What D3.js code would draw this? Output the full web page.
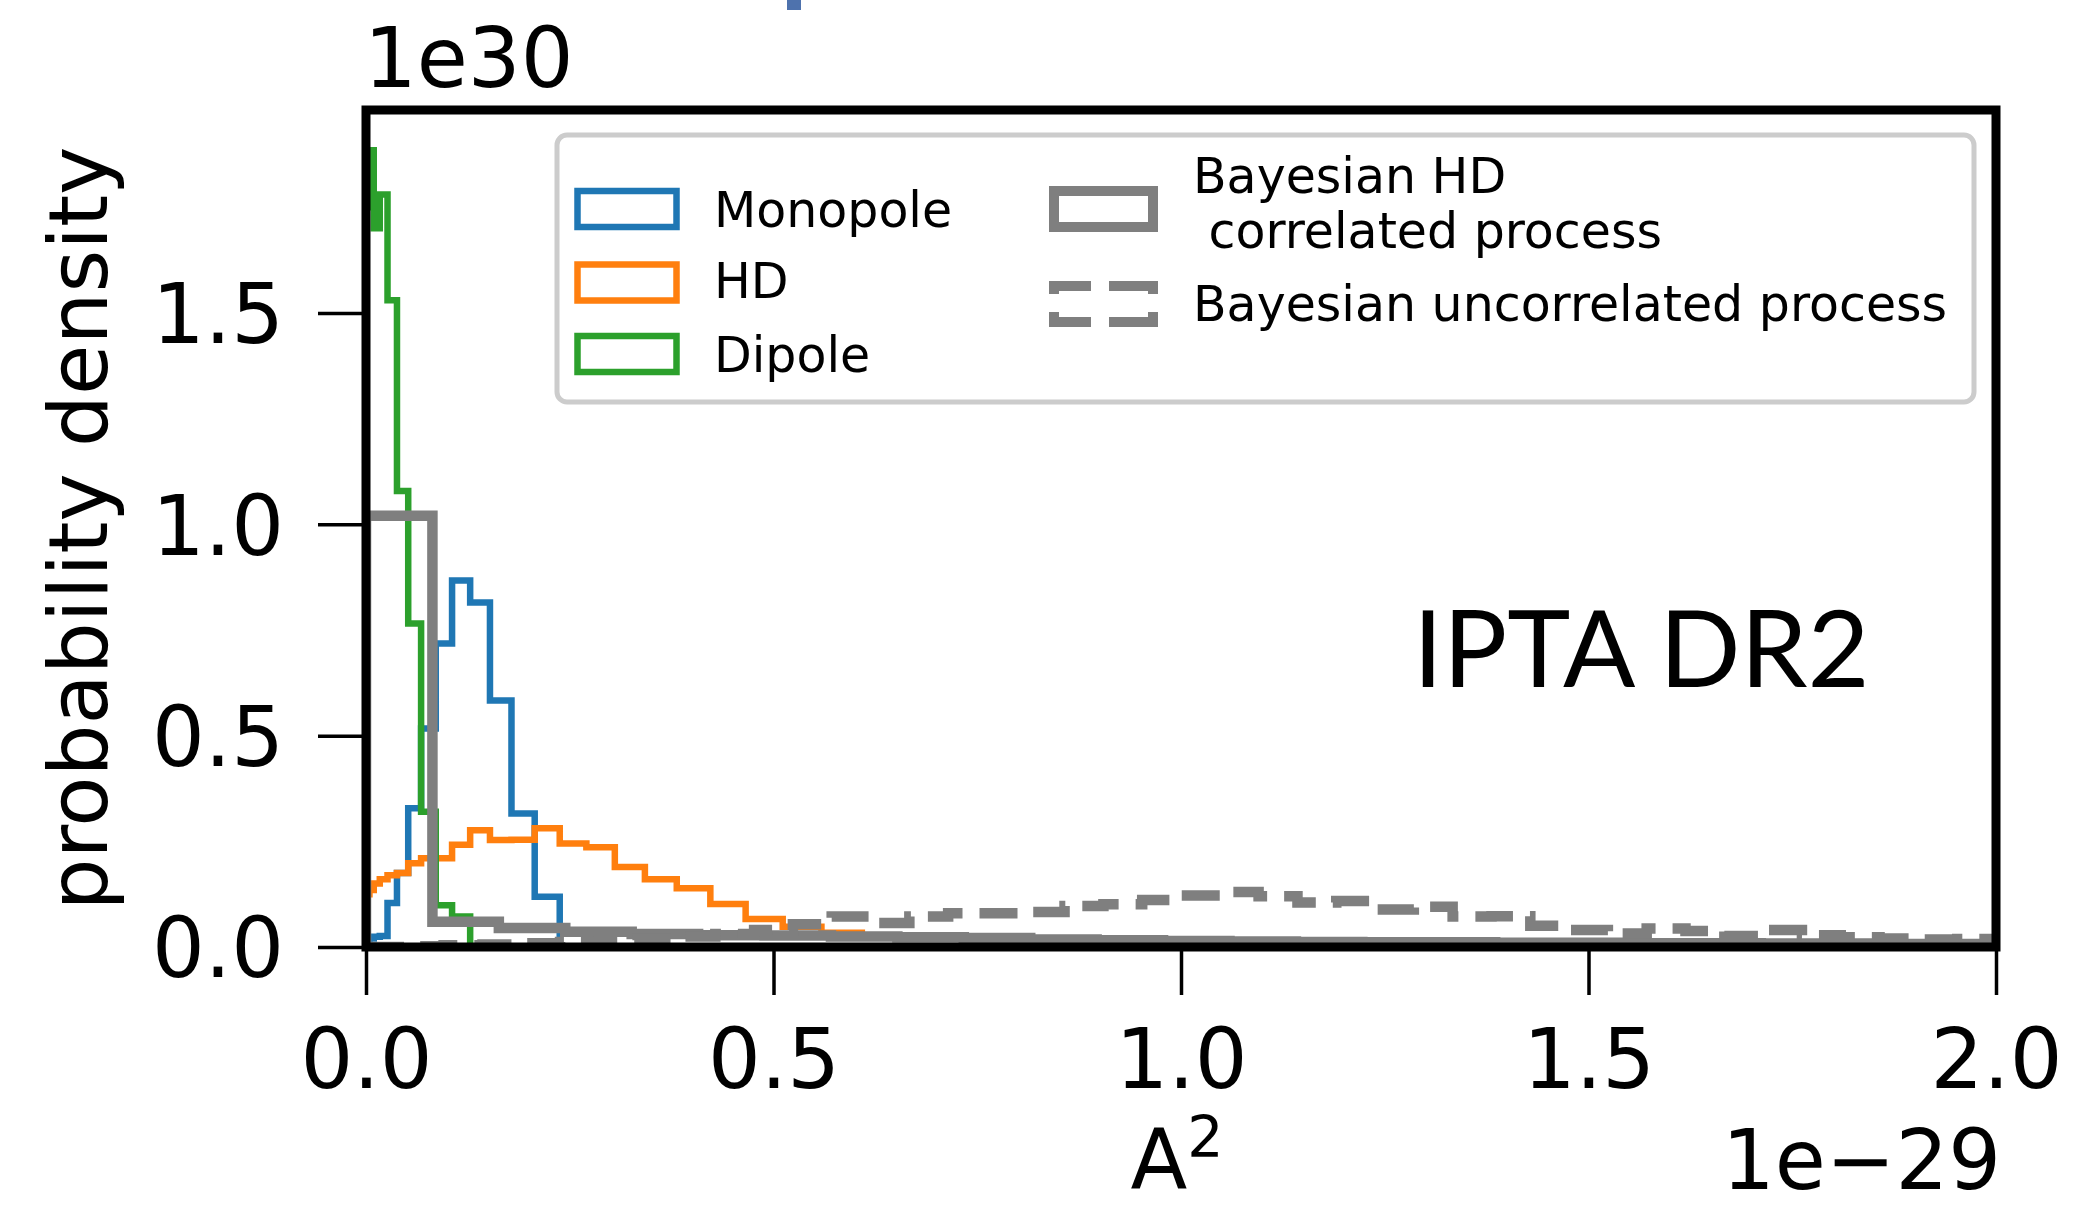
<!DOCTYPE html>
<html><head><meta charset="utf-8">
<script src="https://cdn.jsdelivr.net/npm/d3@7"></script>
<style>
html,body{margin:0;padding:0;background:#fff;}
svg{display:block;}
text{font-family:"DejaVu Sans", sans-serif; fill:#000;}
</style></head><body>
<svg id="chart" width="2100" height="1210"></svg>
<script>
// ---------- data ----------
const xTicks = [0, 0.5, 1.0, 1.5, 2.0];
const xTickLabels = ["0.0", "0.5", "1.0", "1.5", "2.0"];
const yTicks = [0, 0.5, 1.0, 1.5];
const yTickLabels = ["0.0", "0.5", "1.0", "1.5"];

// shared bin edges of the three colored histograms (units of 1e-29)
const colorEdges = [0, 0.00106, 0.00423, 0.00951, 0.0169, 0.0264, 0.0380, 0.0518, 0.0676, 0.0856,
  0.1056, 0.1278, 0.1521, 0.1785, 0.2070, 0.2377, 0.2704, 0.3053, 0.3422, 0.3813,
  0.4225, 0.4658, 0.5113, 0.5588, 0.6084, 0.6602, 0.7141, 0.7700, 0.8281, 0.8883,
  0.9506, 1.0150, 1.0816];
// densities (units of 1e30)
const monopole = [0, 0.010, 0.020, 0.024, 0.026, 0.104, 0.175, 0.328, 0.517, 0.718,
  0.867, 0.815, 0.583, 0.316, 0.119];
const hd = [0.120, 0.125, 0.135, 0.150, 0.160, 0.170, 0.175, 0.198, 0.210, 0.210,
  0.242, 0.276, 0.253, 0.254, 0.281, 0.245, 0.236, 0.189, 0.160, 0.139,
  0.1015, 0.066, 0.048, 0.034, 0.027, 0.023, 0.020, 0.016, 0.012, 0.009,
  0.007, 0.005];
const dipole = [1.80, 1.75, 1.885, 1.70, 1.78, 1.53, 1.079, 0.765, 0.320, 0.099, 0.072];

const bayesHDEdges = [0, 0.0815, 0.163, 0.2445, 0.326, 0.4075, 0.489, 0.5705, 0.652, 0.7335,
  0.815, 0.8965, 0.978, 1.0595, 1.141, 1.2225, 1.304, 1.3855, 1.467, 1.5485,
  1.63, 1.7115, 1.793, 1.8745, 1.956, 2.0375];
const bayesHD = [1.02, 0.060, 0.045, 0.036, 0.031, 0.028, 0.027, 0.025, 0.023, 0.021,
  0.018, 0.016, 0.014, 0.013, 0.012, 0.011, 0.011, 0.010, 0.010, 0.009,
  0.009, 0.008, 0.008, 0.007, 0.007];

const bayesUncEdges = [0, 0.0476, 0.0952, 0.1429, 0.1905, 0.2381, 0.2857, 0.3333, 0.3810, 0.4286,
  0.4762, 0.5238, 0.5714, 0.6190, 0.6667, 0.7143, 0.7619, 0.8095, 0.8571, 0.9048,
  0.9524, 1.0000, 1.0476, 1.0952, 1.1429, 1.1905, 1.2381, 1.2857, 1.3333, 1.3810,
  1.4286, 1.4762, 1.5238, 1.5714, 1.6190, 1.6667, 1.7143, 1.7619, 1.8095, 1.8571,
  1.9048, 1.9524, 2.0000];
const bayesUnc = [0.000, 0.002, 0.004, 0.006, 0.009, 0.012, 0.016, 0.020, 0.025, 0.031,
  0.040, 0.054, 0.072, 0.057, 0.072, 0.080, 0.080, 0.083, 0.097, 0.101,
  0.111, 0.122, 0.130, 0.120, 0.105, 0.109, 0.089, 0.095, 0.072, 0.073,
  0.050, 0.040, 0.032, 0.044, 0.038, 0.026, 0.040, 0.028, 0.023, 0.020,
  0.018, 0.019];

const legendNames = ["Monopole", "HD", "Dipole", "Bayesian HD", " correlated process", "Bayesian uncorrelated process"];

// ---------- layout ----------
const svg = d3.select("#chart");
const L = 366, R = 1996, T = 110, B = 947;
const x = d3.scaleLinear().domain([0, 2]).range([L, R]);
const y = d3.scaleLinear().domain([0, 1.98]).range([B, T]);

svg.append("rect").attr("x", 0).attr("y", 0).attr("width", 2100).attr("height", 1210).attr("fill", "#fff");
// stray slide element at top
svg.append("rect").attr("x", 787).attr("y", 0).attr("width", 14).attr("height", 10).attr("fill", "#4e72ad");

svg.append("defs").append("clipPath").attr("id", "plotclip")
  .append("rect").attr("x", L).attr("y", T).attr("width", R - L).attr("height", B - T);

function stepPoints(edges, vals) {
  const pts = [[edges[0], 0]];
  vals.forEach((v, i) => { pts.push([edges[i], v]); pts.push([edges[i + 1], v]); });
  pts.push([edges[vals.length], 0]);
  return pts;
}
const line = d3.line().x(d => x(d[0])).y(d => y(d[1]));

const plot = svg.append("g").attr("clip-path", "url(#plotclip)");
const hists = [
  {edges: colorEdges, vals: monopole, color: "#1f77b4", w: 6.5, dash: null},
  {edges: colorEdges, vals: hd, color: "#ff7f0e", w: 6.5, dash: null},
  {edges: colorEdges, vals: dipole, color: "#2ca02c", w: 6.5, dash: null},
  {edges: bayesHDEdges, vals: bayesHD, color: "#7f7f7f", w: 10.5, dash: null},
  {edges: bayesUncEdges, vals: bayesUnc, color: "#7f7f7f", w: 10.5, dash: "38,17"}
];
hists.forEach(h => {
  plot.append("path")
    .attr("d", line(stepPoints(h.edges, h.vals)))
    .attr("fill", "none")
    .attr("stroke", h.color)
    .attr("stroke-width", h.w)
    .attr("stroke-linejoin", "miter")
    .attr("stroke-dasharray", h.dash);
});

// ---------- axes ----------
const xAxis = svg.append("g").attr("transform", `translate(0,${B})`)
  .call(d3.axisBottom(x).tickValues(xTicks).tickFormat((d, i) => xTickLabels[i]).tickSize(48).tickPadding(34));
const yAxis = svg.append("g").attr("transform", `translate(${L},0)`)
  .call(d3.axisLeft(y).tickValues(yTicks).tickFormat((d, i) => yTickLabels[i]).tickSize(48).tickPadding(34));
[xAxis, yAxis].forEach(a => {
  a.select(".domain").remove();
  a.selectAll(".tick line").attr("stroke", "#000").attr("stroke-width", 3.5);
  a.selectAll(".tick text").attr("font-family", "DejaVu Sans").attr("font-size", 83).attr("fill", "#000");
});
yAxis.selectAll(".tick text").attr("dy", "0.36em");

// spines
svg.append("rect").attr("x", L).attr("y", T).attr("width", R - L).attr("height", B - T)
  .attr("fill", "none").attr("stroke", "#000").attr("stroke-width", 9);

// labels
svg.append("text").attr("x", 364).attr("y", 87).attr("font-size", 83).text("1e30");
svg.append("text").attr("x", 2001).attr("y", 1189).attr("font-size", 83).attr("text-anchor", "end").text("1e\u221229");
const xl = svg.append("text").attr("x", 1177).attr("y", 1189).attr("font-size", 83).attr("text-anchor", "middle");
xl.append("tspan").text("A");
xl.append("tspan").attr("font-size", 57).attr("dy", -32).text("2");
svg.append("text").attr("transform", "translate(107,528.5) rotate(-90)")
  .attr("font-size", 82).attr("text-anchor", "middle").text("probability density");

svg.append("text").attr("x", 1413).attr("y", 687).attr("font-size", 107)
  .style("font-family", "Lato, 'Open Sans', sans-serif").text("IPTA DR2");

// ---------- legend ----------
const lg = svg.append("g");
lg.append("rect").attr("x", 557).attr("y", 135).attr("width", 1417).attr("height", 267).attr("rx", 10)
  .attr("fill", "#fff").attr("fill-opacity", 0.8).attr("stroke", "#cccccc").attr("stroke-width", 5);

const col1 = [{c: "#1f77b4", cy: 209, t: legendNames[0], by: 227},
              {c: "#ff7f0e", cy: 282.5, t: legendNames[1], by: 298},
              {c: "#2ca02c", cy: 354, t: legendNames[2], by: 372}];
col1.forEach(e => {
  lg.append("rect").attr("x", 577.5).attr("y", e.cy - 18).attr("width", 99).attr("height", 36)
    .attr("fill", "none").attr("stroke", e.c).attr("stroke-width", 6.5);
  lg.append("text").attr("x", 714).attr("y", e.by).attr("font-size", 49).text(e.t);
});
// Bayesian HD patch
lg.append("rect").attr("x", 1054).attr("y", 209 - 18).attr("width", 99).attr("height", 36)
  .attr("fill", "none").attr("stroke", "#7f7f7f").attr("stroke-width", 10);
lg.append("text").attr("x", 1193).attr("y", 193).attr("font-size", 49).text(legendNames[3]);
lg.append("text").attr("x", 1193).attr("y", 248).attr("font-size", 49).style("white-space", "pre").text(legendNames[4]);
// dashed patch drawn edge by edge
const dp = {x0: 1054, x1: 1153, y0: 304 - 18, y1: 304 + 18};
const dEdges = [
  [[dp.x0 - 5, dp.y0], [dp.x1 + 5, dp.y0], "42,18,60"],
  [[dp.x0 - 5, dp.y1], [dp.x1 + 5, dp.y1], "42,18,60"],
  [[dp.x0, dp.y0], [dp.x0, dp.y1], "8,18,20"],
  [[dp.x1, dp.y0], [dp.x1, dp.y1], "8,18,20"]
];
dEdges.forEach(e => {
  lg.append("path").attr("d", d3.line()([e[0], e[1]])).attr("fill", "none")
    .attr("stroke", "#7f7f7f").attr("stroke-width", 10).attr("stroke-dasharray", e[2]);
});
lg.append("text").attr("x", 1193).attr("y", 321).attr("font-size", 49).text(legendNames[5]);
</script>
</body></html>
